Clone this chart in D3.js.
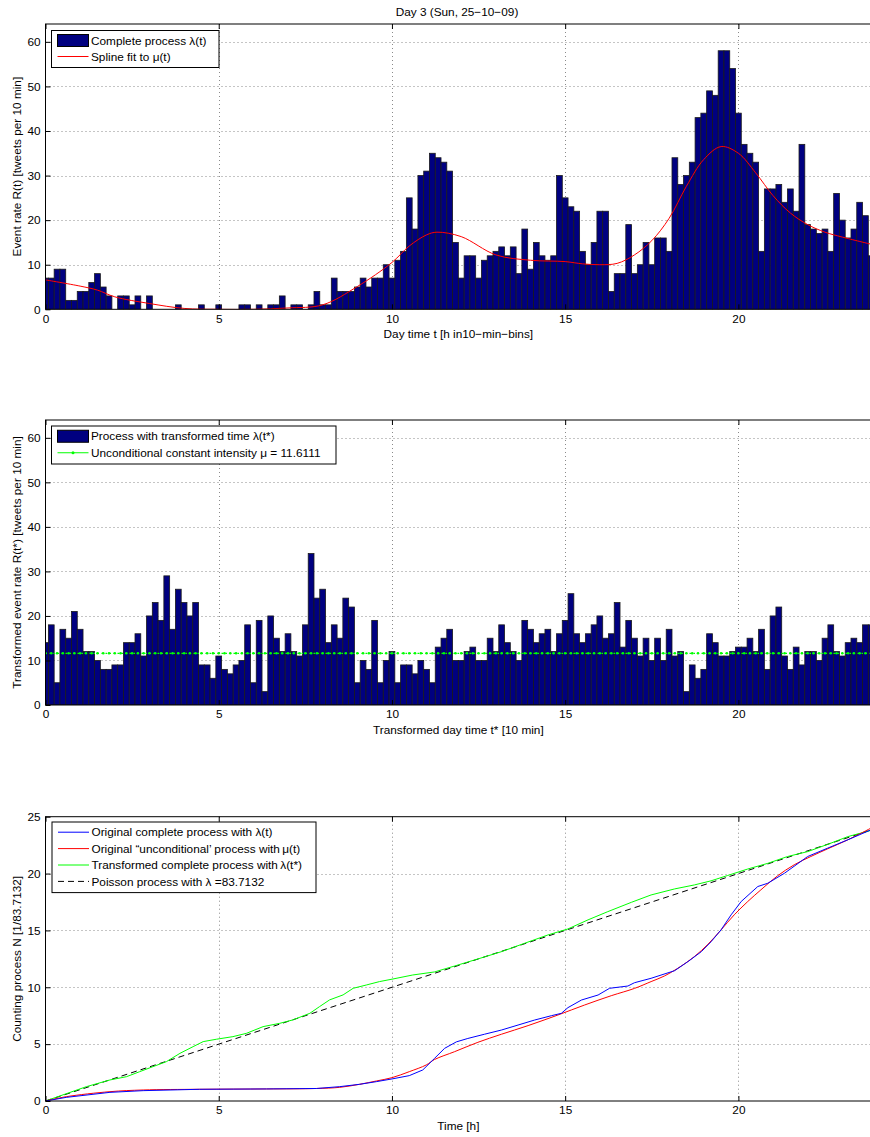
<!DOCTYPE html>
<html>
<head>
<meta charset="utf-8">
<script src="https://cdn.jsdelivr.net/npm/d3@7"></script>
<style>
  body { margin: 0; background: #fff; }
  svg text { font-family: "Liberation Sans", Arial, Helvetica, sans-serif; font-size: 11.8px; fill: #000; }
</style>
</head>
<body>
<svg id="chart" width="870" height="1137"></svg>
<script>
// Tweets per 10-min bin, day 3 (144 bins).
const rateOrig = [
  7,7,9,9,2,2,4,4,6,8, 5,3,0,3,3,1,3,0,3,0, 0,0,0,1,0,0,0,1,0,0,
  1,0,0,0,1,1,0,1,0,1, 1,3,0,1,1,0,1,4,1,1, 7,4,4,4,5,7,5,7,7,10,
  7,11,13,25,18,30,31,35,34,33, 31,15,7,12,12,7,11,12,13,14, 12,14,8,18,9,15,12,11,12,30,
  25,23,22,13,10,15,22,22,4,8, 8,19,8,10,15,10,16,16,13,34, 28,30,33,43,44,49,48,58,58,54,
  44,37,35,33,13,27,27,28,24,27, 22,37,19,18,17,18,13,26,20,16, 18,24,21,12
];
// Transformed-time process, same binning.
const rateTrans = [
  14,18,5,17,15,21,17,12,12,10, 8,8,9,9,14,14,16,11,20,23, 19,29,17,26,23,20,23,9,9,6,
  11,8,7,9,10,18,5,19,3,20, 15,12,16,12,11,18,34,24,26,14, 18,15,24,22,5,10,8,19,5,10,
  12,5,9,9,7,10,8,5,13,15, 17,10,10,12,13,10,10,15,12,18, 14,12,10,19,17,14,16,17,12,16,
  19,25,16,14,16,18,20,15,16,23, 13,19,15,11,15,10,15,10,17,11, 12,3,9,6,8,16,14,11,11,12,
  13,13,15,12,17,8,20,22,11,8, 13,9,12,12,10,15,18,12,11,14, 15,14,18,18
];
const binHours = d3.range(rateOrig.length).map(i => i / 6);
const binWidth = 1 / 6;

// Spline fit to mu(t)
const splineT = [0, 1, 1.5, 2, 3, 4, 5, 6, 7, 8, 9, 10, 10.5, 11, 11.3, 12, 13, 14, 15, 15.5, 16, 16.5, 17, 17.5, 18, 18.5, 19, 19.5, 20, 20.5, 21, 21.5, 22, 22.5, 23, 23.83];
const splineV = [6.6, 5.2, 4.3, 2.8, 1.3, 0.2, 0, 0, 0.3, 1.0, 5.1, 10.5, 14.2, 16.7, 17.3, 16.3, 12.2, 11.0, 10.7, 10.2, 10.0, 10.3, 12.2, 15.4, 20.4, 27.6, 33.6, 36.5, 35.0, 30.6, 25.5, 21.6, 19.0, 17.3, 16.2, 14.6];

const mu = 11.6111;
const lambda = 83.7132;

// Counting processes
const blueT = [0, 0.6, 1.86, 2.82, 4.45, 6.38, 7.82, 8.49, 9.07, 9.55, 10, 10.5, 10.89, 11.23, 11.52, 11.86, 12.19, 12.67, 13.16, 13.64, 14.12, 14.6, 14.89, 15.08, 15.47, 15.95, 16.28, 16.81, 17.0, 17.48, 18.16, 18.54, 18.93, 19.21, 19.5, 19.79, 20.08, 20.56, 20.85, 21.33, 22.0, 22.58, 23.16, 23.83];
const blueN = [0, 0.32, 0.76, 0.91, 1.03, 1.06, 1.1, 1.26, 1.47, 1.7, 1.94, 2.23, 2.73, 3.75, 4.63, 5.2, 5.5, 5.87, 6.24, 6.68, 7.12, 7.5, 7.71, 8.21, 8.88, 9.32, 9.91, 10.11, 10.4, 10.79, 11.46, 12.25, 13.13, 14.0, 15.05, 16.37, 17.54, 18.86, 19.15, 20.03, 21.5, 22.24, 22.97, 23.85];
const redT = [0, 0.6, 1.86, 2.82, 4.45, 6.38, 7.82, 8.49, 9.07, 9.55, 10, 10.5, 10.99, 11.23, 11.81, 12.48, 13.16, 13.93, 14.79, 15.56, 16.33, 17.0, 17.48, 17.87, 18.25, 18.73, 19.12, 19.5, 19.88, 20.27, 20.65, 21.13, 21.61, 22.09, 22.58, 23.16, 23.83];
const redN = [0, 0.38, 0.82, 0.97, 1.03, 1.06, 1.1, 1.2, 1.47, 1.76, 2.05, 2.58, 3.17, 3.65, 4.34, 5.16, 5.87, 6.63, 7.56, 8.44, 9.26, 9.9, 10.5, 11.0, 11.67, 12.7, 13.78, 15.05, 16.37, 17.54, 18.57, 19.8, 20.77, 21.5, 22.18, 22.97, 24.0];
const greenT = [0, 1.18, 1.86, 2.34, 2.72, 3.1, 3.49, 3.88, 4.26, 4.55, 4.93, 5.41, 5.8, 6.28, 6.76, 7.14, 7.63, 7.91, 8.2, 8.59, 8.88, 9.26, 9.64, 10.03, 10.6, 11.23, 11.81, 12.48, 13.16, 13.83, 14.5, 15.08, 15.66, 16.23, 16.91, 17.48, 18.16, 18.73, 19.21, 19.69, 20.27, 20.85, 21.42, 22.0, 22.58, 23.16, 23.83];
const greenN = [0, 1.26, 1.85, 2.14, 2.58, 3.02, 3.46, 4.19, 4.78, 5.22, 5.43, 5.66, 5.95, 6.54, 6.83, 7.13, 7.71, 8.3, 8.89, 9.33, 9.91, 10.2, 10.5, 10.73, 11.08, 11.35, 11.87, 12.49, 13.13, 13.87, 14.6, 15.13, 15.93, 16.65, 17.47, 18.12, 18.65, 19.0, 19.36, 19.83, 20.4, 20.9, 21.5, 21.93, 22.57, 23.25, 23.8];
const poissonT = [0, 23.83];
const poissonN = [0, 23.83];

const xTicks = [0, 5, 10, 15, 20];

const svg = d3.select("#chart");
const X0 = 45.5, X1 = 871.2;
const xMax = 143 / 6;

function makePanel(id, top, bottom, yMax, yStep, xLabel, yLabel) {
  const x = d3.scaleLinear().domain([0, xMax]).range([X0, X1]);
  const y = d3.scaleLinear().domain([0, yMax]).range([bottom, top]);
  const yTicks = d3.range(0, yMax + 0.01, yStep);

  svg.append("clipPath").attr("id", "clip" + id)
    .append("rect").attr("x", X0).attr("y", top).attr("width", X1 - X0).attr("height", bottom - top);

  // dotted grid
  const grid = svg.append("g").attr("stroke", "#8a8a8a").attr("stroke-width", 1).attr("stroke-dasharray", "1,3");
  grid.selectAll("line.v").data(xTicks.filter(t => t > 0)).join("line")
    .attr("x1", d => Math.round(x(d)) + 0.5).attr("x2", d => Math.round(x(d)) + 0.5)
    .attr("y1", top).attr("y2", bottom);
  grid.selectAll("line.h").data(yTicks.filter(t => t > 0 && t < yMax)).join("line")
    .attr("y1", d => Math.round(y(d)) + 0.5).attr("y2", d => Math.round(y(d)) + 0.5)
    .attr("x1", X0).attr("x2", X1);

  const plot = svg.append("g").attr("clip-path", `url(#clip${id})`);

  const axes = svg.append("g");
  return {x, y, plot, axes, top, bottom, yTicks, xLabel, yLabel};
}

function finishPanel(p) {
  const {x, y, axes, top, bottom, yTicks} = p;
  axes.append("g").attr("transform", `translate(0,${bottom})`)
    .call(d3.axisBottom(x).tickValues(xTicks).tickSizeInner(-5).tickSizeOuter(0).tickPadding(5).tickFormat(d3.format("d")))
    .call(g => g.select(".domain").remove())
    .call(g => g.selectAll("text").attr("font-size", null).attr("font-family", null));
  axes.append("g").attr("transform", `translate(0,${top})`)
    .call(d3.axisTop(x).tickValues(xTicks).tickSizeInner(-5).tickSizeOuter(0).tickFormat(""))
    .call(g => g.select(".domain").remove());
  axes.append("g").attr("transform", `translate(${X0},0)`)
    .call(d3.axisLeft(y).tickValues(yTicks).tickSizeInner(-5).tickSizeOuter(0).tickPadding(5).tickFormat(d3.format("d")))
    .call(g => g.select(".domain").remove())
    .call(g => g.selectAll("text").attr("font-size", null).attr("font-family", null));
  axes.append("rect").attr("x", X0).attr("y", top).attr("width", X1 - X0).attr("height", bottom - top)
    .attr("fill", "none").attr("stroke", "#000").attr("stroke-width", 1);

  axes.append("text").attr("x", (X0 + X1) / 2).attr("y", bottom + 29).attr("text-anchor", "middle").text(p.xLabel);
  axes.append("text").attr("transform", `translate(21,${(top + bottom) / 2}) rotate(-90)`)
    .attr("text-anchor", "middle").text(p.yLabel);
}

function drawBars(p, values) {
  const w = p.x(binWidth) - p.x(0);
  p.plot.append("g").selectAll("rect").data(values.map((v, i) => ({t: binHours[i], v})).filter(d => d.v > 0))
    .join("rect")
    .attr("x", d => p.x(d.t - binWidth / 2))
    .attr("width", w)
    .attr("y", d => p.y(d.v))
    .attr("height", d => p.y(0) - p.y(d.v))
    .attr("fill", "#000080")
    .attr("stroke", "#1a1a1a")
    .attr("stroke-width", 0.8);
}

function drawLine(p, ts, vs, color, opts = {}) {
  const line = d3.line().x(d => p.x(d[0])).y(d => p.y(d[1]));
  if (opts.curve) line.curve(opts.curve);
  p.plot.append("path").datum(ts.map((t, i) => [t, vs[i]]))
    .attr("fill", "none").attr("stroke", color).attr("stroke-width", opts.width || 1)
    .attr("stroke-dasharray", opts.dash || null)
    .attr("d", line);
}

function legend(x, y, w, rowH, items) {
  const g = svg.append("g");
  g.append("rect").attr("x", x).attr("y", y).attr("width", w).attr("height", items.length * rowH + 5)
    .attr("fill", "#fff").attr("stroke", "#000").attr("stroke-width", 1);
  items.forEach((it, i) => {
    const cy = y + 10 + i * rowH + (rowH - 16) / 2;
    if (it.type === "bar") {
      g.append("rect").attr("x", x + 6).attr("y", cy - 6).attr("width", 31).attr("height", 12)
        .attr("fill", "#000080").attr("stroke", "#000").attr("stroke-width", 1);
    } else {
      g.append("line").attr("x1", x + 6).attr("x2", x + 37).attr("y1", cy).attr("y2", cy)
        .attr("stroke", it.color).attr("stroke-width", 1).attr("stroke-dasharray", it.dash || null);
      if (it.marker) {
        g.append("circle").attr("cx", x + 21.5).attr("cy", cy).attr("r", 1.5).attr("fill", it.color);
      }
    }
    g.append("text").attr("x", x + 39.5).attr("y", cy + 4.2).text(it.label);
  });
}

// Title
svg.append("text").attr("x", 457).attr("y", 16).attr("text-anchor", "middle").text("Day 3 (Sun, 25\u221210\u221209)");

// Panel 1
const p1 = makePanel(1, 24, 309.3, 64, 10, "Day time t [h in10\u2212min\u2212bins]", "Event rate R(t) [tweets per 10 min]");
drawBars(p1, rateOrig);
drawLine(p1, splineT, splineV, "#ff0000", {curve: d3.curveCatmullRom});
finishPanel(p1);
legend(51.5, 30.5, 167.5, 16, [
  {type: "bar", label: "Complete process \u03bb(t)"},
  {type: "line", color: "#ff0000", label: "Spline fit to \u03bc(t)"}
]);

// Panel 2
const p2 = makePanel(2, 420, 705, 64, 10, "Transformed day time t* [10 min]", "Transformed event rate R(t*) [tweets per 10 min]");
drawBars(p2, rateTrans);
drawLine(p2, [0, xMax], [mu, mu], "#00ff00", {dash: "1.5,2.5", width: 1.2});
p2.plot.append("g").selectAll("circle").data(binHours).join("circle")
  .attr("cx", d => p2.x(d)).attr("cy", p2.y(mu)).attr("r", 1.3).attr("fill", "#00ff00");
finishPanel(p2);
legend(51.5, 426, 284.5, 16.5, [
  {type: "bar", label: "Process with transformed time \u03bb(t*)"},
  {type: "line", color: "#00ff00", marker: true, label: "Unconditional constant intensity \u03bc = " + mu}
]);

// Panel 3
const p3 = makePanel(3, 816.7, 1101, 25, 5, "Time [h]", "Counting process N [1/" + lambda + "]");
drawLine(p3, poissonT, poissonN, "#000", {dash: "6,4"});
drawLine(p3, greenT, greenN, "#00ff00");
drawLine(p3, redT, redN, "#ff0000", {curve: d3.curveCatmullRom});
drawLine(p3, blueT, blueN, "#0000ff");
finishPanel(p3);
legend(52, 822, 264, 16.4, [
  {type: "line", color: "#0000ff", label: "Original complete process with \u03bb(t)"},
  {type: "line", color: "#ff0000", label: "Original \u201cunconditional\u2019 process with\u2009\u03bc(t)"},
  {type: "line", color: "#00ff00", label: "Transformed complete process with\u2009\u03bb(t*)"},
  {type: "line", color: "#000", dash: "6,4", label: "Poisson process with \u03bb =" + lambda}
]);
</script>
</body>
</html>
